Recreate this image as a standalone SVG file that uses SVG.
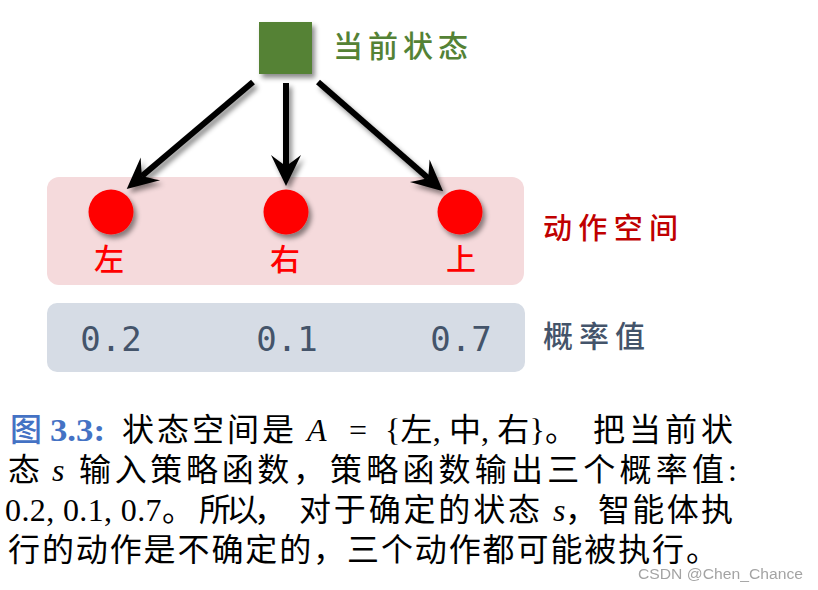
<svg xmlns="http://www.w3.org/2000/svg" width="818" height="590" viewBox="0 0 818 590">
<style>
.cjk{font-family:'Noto Sans CJK SC',sans-serif;font-weight:500;}
.cap{font-family:'Liberation Serif','Noto Sans CJK SC',serif;font-size:32px;fill:#000;}
.it{font-family:'Liberation Serif',serif;font-style:italic;}
.num{font-family:'DejaVu Sans Mono',monospace;font-size:34px;fill:#44546a;text-anchor:middle;}
.act{font-family:'Noto Sans CJK SC',sans-serif;font-weight:500;font-size:30px;fill:#ff0000;text-anchor:middle;}
.arrow{stroke:#000;stroke-width:6;fill:none;marker-end:url(#head);}
</style>
<defs>
<filter id="sh" x="-50%" y="-50%" width="200%" height="200%">
<feDropShadow dx="3" dy="4" stdDeviation="2.5" flood-color="#000" flood-opacity="0.45"/>
</filter>
<marker id="head" markerUnits="userSpaceOnUse" markerWidth="40" markerHeight="40" refX="14" refY="20" orient="auto">
<path d="M34,20 L3,5 Q10,14 14,20 Q10,26 3,35 Z" fill="#000"/>
</marker>
</defs>
<rect x="47" y="177" width="477" height="108" rx="12" fill="#f5dadc"/>
<rect x="47" y="303" width="478" height="69" rx="10" fill="#d6dce5"/>
<g id="connectors" filter="url(#sh)">
<line class="arrow" x1="253" y1="82" x2="142" y2="176"/>
<line class="arrow" x1="286" y1="83" x2="286" y2="166"/>
<line class="arrow" x1="318" y1="82" x2="428" y2="178"/>
</g>
<g id="state">
<rect x="259" y="22" width="53" height="52" fill="#548235" filter="url(#sh)"/>
<text class="cjk" x="333" y="57" font-size="30" fill="#548235" textLength="135" lengthAdjust="spacing">当前状态</text>
</g>
<g id="left">
<circle cx="111" cy="212" r="22.5" fill="#ff0000" filter="url(#sh)"/>
<text class="act" x="109" y="270">左</text>
</g>
<g id="right">
<circle cx="286" cy="212" r="22.5" fill="#ff0000" filter="url(#sh)"/>
<text class="act" x="285" y="270">右</text>
</g>
<g id="up">
<circle cx="460" cy="212" r="22.5" fill="#ff0000" filter="url(#sh)"/>
<text class="act" x="461" y="270">上</text>
</g>
<g id="action-space">
<text class="cjk" x="543" y="239" font-size="29" fill="#c00000" textLength="135" lengthAdjust="spacing">动作空间</text>
</g>
<g id="probs">
<text class="num" x="111" y="351">0.2</text>
<text class="num" x="287" y="351">0.1</text>
<text class="num" x="461" y="351">0.7</text>
<text class="cjk" x="543" y="347" font-size="30" fill="#44546a" textLength="102" lengthAdjust="spacing">概率值</text>
</g>
<g id="caption">
<text class="cjk" x="10" y="441" font-size="32" fill="#4472c4" font-weight="400">图</text>
<text x="50" y="441" font-family="'Liberation Serif',serif" font-weight="bold" font-size="32" fill="#4472c4" textLength="55" lengthAdjust="spacingAndGlyphs">3.3:</text>
<text class="cap" x="122" y="441" textLength="172" lengthAdjust="spacing">状态空间是</text>
<text class="cap it" x="307" y="441" font-size="34">A</text>
<text class="cap" x="349" y="441">=</text>
<text class="cap" x="385" y="441" textLength="192" lengthAdjust="spacing">{左, 中, 右}。</text>
<text class="cap" x="593" y="441" textLength="140" lengthAdjust="spacing">把当前状</text>

<text class="cap" x="8" y="481">态</text>
<text class="cap it" x="52" y="481">s</text>
<text class="cap" x="79" y="481" textLength="246" lengthAdjust="spacing">输入策略函数，</text>
<text class="cap" x="330" y="481" textLength="407" lengthAdjust="spacing">策略函数输出三个概率值:</text>

<text class="cap" x="5" y="521" textLength="189" lengthAdjust="spacing">0.2, 0.1, 0.7。</text>
<text class="cap" x="199" y="521" textLength="87" lengthAdjust="spacing">所以，</text>
<text class="cap" x="299" y="521" textLength="241" lengthAdjust="spacing">对于确定的状态</text>
<text class="cap it" x="553" y="521">s</text>
<text class="cap" x="565" y="521">，</text>
<text class="cap" x="598" y="521" textLength="135" lengthAdjust="spacing">智能体执</text>

<text class="cap" x="8" y="561" textLength="710" lengthAdjust="spacing">行的动作是不确定的，三个动作都可能被执行。</text>
</g>
<text x="638" y="579" font-family="'Liberation Sans',sans-serif" font-size="15.5" fill="#9a9a9a" opacity="0.9" textLength="165" lengthAdjust="spacingAndGlyphs">CSDN @Chen_Chance</text>
</svg>
